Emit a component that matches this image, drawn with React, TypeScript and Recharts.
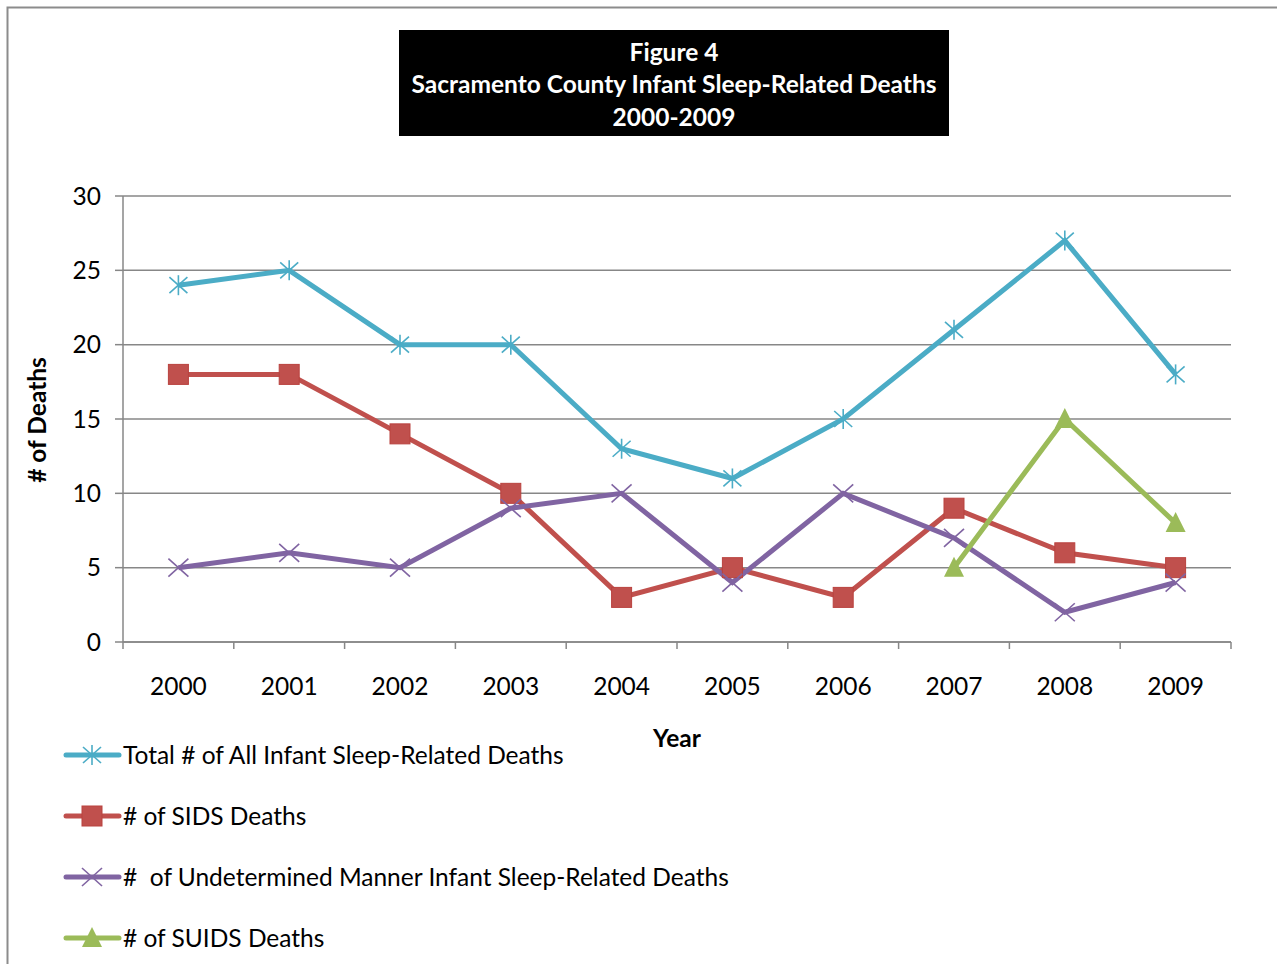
import { LineChart, Line, XAxis, YAxis, CartesianGrid, Legend } from "recharts";

const years = ["2000", "2001", "2002", "2003", "2004", "2005", "2006", "2007", "2008", "2009"];
const totalDeaths = [24, 25, 20, 20, 13, 11, 15, 21, 27, 18];
const sidsDeaths = [18, 18, 14, 10, 3, 5, 3, 9, 6, 5];
const undeterminedDeaths = [5, 6, 5, 9, 10, 4, 10, 7, 2, 4];
const suidsDeaths = [null, null, null, null, null, null, null, 5, 15, 8];
const yTicks = [0, 5, 10, 15, 20, 25, 30];
const titleLines = ["Figure 4", "Sacramento County Infant Sleep-Related Deaths", "2000-2009"];

const FONT = "Lato, 'Open Sans', sans-serif";
const FONT_SIZE = 24.5;
const GRID = "#878787";

const data = years.map((year, i) => ({
  year,
  total: totalDeaths[i],
  sids: sidsDeaths[i],
  undetermined: undeterminedDeaths[i],
  suids: suidsDeaths[i],
}));

type MarkerKind = "asterisk" | "square" | "cross" | "triangle";

const series: { key: string; name: string; color: string; marker: MarkerKind }[] = [
  { key: "total", name: "Total # of All Infant Sleep-Related Deaths", color: "#4BACC6", marker: "asterisk" },
  { key: "sids", name: "# of SIDS Deaths", color: "#C0504D", marker: "square" },
  { key: "undetermined", name: "#  of Undetermined Manner Infant Sleep-Related Deaths", color: "#8064A2", marker: "cross" },
  { key: "suids", name: "# of SUIDS Deaths", color: "#9BBB59", marker: "triangle" },
];

const Marker = ({ kind, cx, cy, color }: { kind: MarkerKind; cx: number; cy: number; color: string }) => {
  if (kind === "asterisk") {
    return (
      <g stroke={color} strokeWidth={1.6}>
        <line x1={cx} y1={cy - 10} x2={cx} y2={cy + 10} />
        <line x1={cx - 9} y1={cy - 8} x2={cx + 9} y2={cy + 8} />
        <line x1={cx - 9} y1={cy + 8} x2={cx + 9} y2={cy - 8} />
      </g>
    );
  }
  if (kind === "square") {
    return <rect x={cx - 10} y={cy - 10} width={20} height={20} fill={color} stroke="#b9423f" strokeWidth={1} />;
  }
  if (kind === "cross") {
    return (
      <g stroke={color} strokeWidth={1.6}>
        <line x1={cx - 10} y1={cy - 9} x2={cx + 10} y2={cy + 9} />
        <line x1={cx - 10} y1={cy + 9} x2={cx + 10} y2={cy - 9} />
      </g>
    );
  }
  return <path d={`M${cx},${cy - 11} L${cx + 10},${cy + 9} L${cx - 10},${cy + 9} Z`} fill={color} />;
};

const makeDot = (kind: MarkerKind, color: string, key: string) => (props: any) => {
  const { cx, cy, index, value } = props;
  if (value == null || cy == null || Number.isNaN(cy)) return <g key={`${key}-${index}`} />;
  return (
    <g key={`${key}-${index}`}>
      <Marker kind={kind} cx={cx} cy={cy} color={color} />
    </g>
  );
};

// year label under each category, tick marks on the category edges
const YearTick = (props: any) => {
  const { x, y, payload, index } = props;
  const half = payload?.offset ?? 55.4;
  return (
    <g>
      <line x1={x - half} y1={y} x2={x - half} y2={y + 7} stroke={GRID} strokeWidth={1.5} />
      {index === years.length - 1 && (
        <line x1={x + half} y1={y} x2={x + half} y2={y + 7} stroke={GRID} strokeWidth={1.5} />
      )}
      <text x={x} y={y + 43} textAnchor="middle" dominantBaseline="central" fontSize={FONT_SIZE} fontFamily={FONT} fill="#000">
        {payload.value}
      </text>
    </g>
  );
};

const LegendList = () => (
  <div style={{ fontFamily: FONT, fontSize: FONT_SIZE, color: "#000" }}>
    {series.map((s) => (
      <div key={s.key} style={{ height: 61, display: "flex", alignItems: "center", whiteSpace: "pre" }}>
        <svg width={61} height={26} style={{ display: "block" }}>
          <line x1={4} y1={13} x2={57} y2={13} stroke={s.color} strokeWidth={5} strokeLinecap="round" />
          <Marker kind={s.marker} cx={30} cy={13} color={s.color} />
        </svg>
        <span>{s.name}</span>
      </div>
    ))}
  </div>
);

export default function App() {
  return (
    <div style={{ position: "absolute", left: 0, top: 0, width: 1277, height: 964, background: "#fff", overflow: "hidden" }}>
      <svg width={1277} height={964} style={{ position: "absolute", left: 0, top: 0 }}>
        <rect x={7.5} y={7.5} width={1300} height={1000} fill="none" stroke="#8c8c8c" strokeWidth={2} />
        <rect x={399} y={30} width={550} height={106} fill="#000" />
        {titleLines.map((t, i) => (
          <text
            key={t}
            x={674}
            y={51 + i * 32.5}
            textAnchor="middle"
            dominantBaseline="central"
            fill="#fff"
            fontWeight="bold"
            fontSize={FONT_SIZE}
            fontFamily={FONT}
          >
            {t}
          </text>
        ))}
        <text
          x={36}
          y={420}
          transform="rotate(-90 36 420)"
          textAnchor="middle"
          dominantBaseline="central"
          fontWeight="bold"
          fontSize={FONT_SIZE}
          fontFamily={FONT}
        >
          # of Deaths
        </text>
        <text x={677} y={737} textAnchor="middle" dominantBaseline="central" fontWeight="bold" fontSize={FONT_SIZE} fontFamily={FONT}>
          Year
        </text>
      </svg>
      <div style={{ position: "absolute", left: 0, top: 0 }}>
        <LineChart width={1277} height={964} data={data} margin={{ top: 196, right: 46, bottom: 262, left: 63 }}>
          <CartesianGrid vertical={false} stroke={GRID} strokeWidth={1.5} />
          <XAxis
            dataKey="year"
            scale="band"
            height={60}
            tickSize={0}
            tickMargin={0}
            tickLine={false}
            axisLine={{ stroke: GRID, strokeWidth: 1.5 }}
            tick={<YearTick />}
            interval={0}
          />
          <YAxis
            width={60}
            domain={[0, 30]}
            ticks={yTicks}
            tickSize={8}
            tickMargin={14}
            tickLine={{ stroke: GRID, strokeWidth: 1.5 }}
            axisLine={{ stroke: GRID, strokeWidth: 1.5 }}
            tick={{ fill: "#000", fontSize: FONT_SIZE, fontFamily: FONT }}
          />
          {series.map((s) => (
            <Line
              key={s.key}
              dataKey={s.key}
              name={s.name}
              stroke={s.color}
              strokeWidth={5}
              dot={makeDot(s.marker, s.color, s.key)}
              activeDot={false}
              isAnimationActive={false}
              connectNulls={false}
            />
          ))}
          <Legend
            layout="vertical"
            align="center"
            verticalAlign="middle"
            content={<LegendList />}
            wrapperStyle={{ left: 62, top: 724, width: 800, height: 250 }}
          />
        </LineChart>
      </div>
    </div>
  );
}
